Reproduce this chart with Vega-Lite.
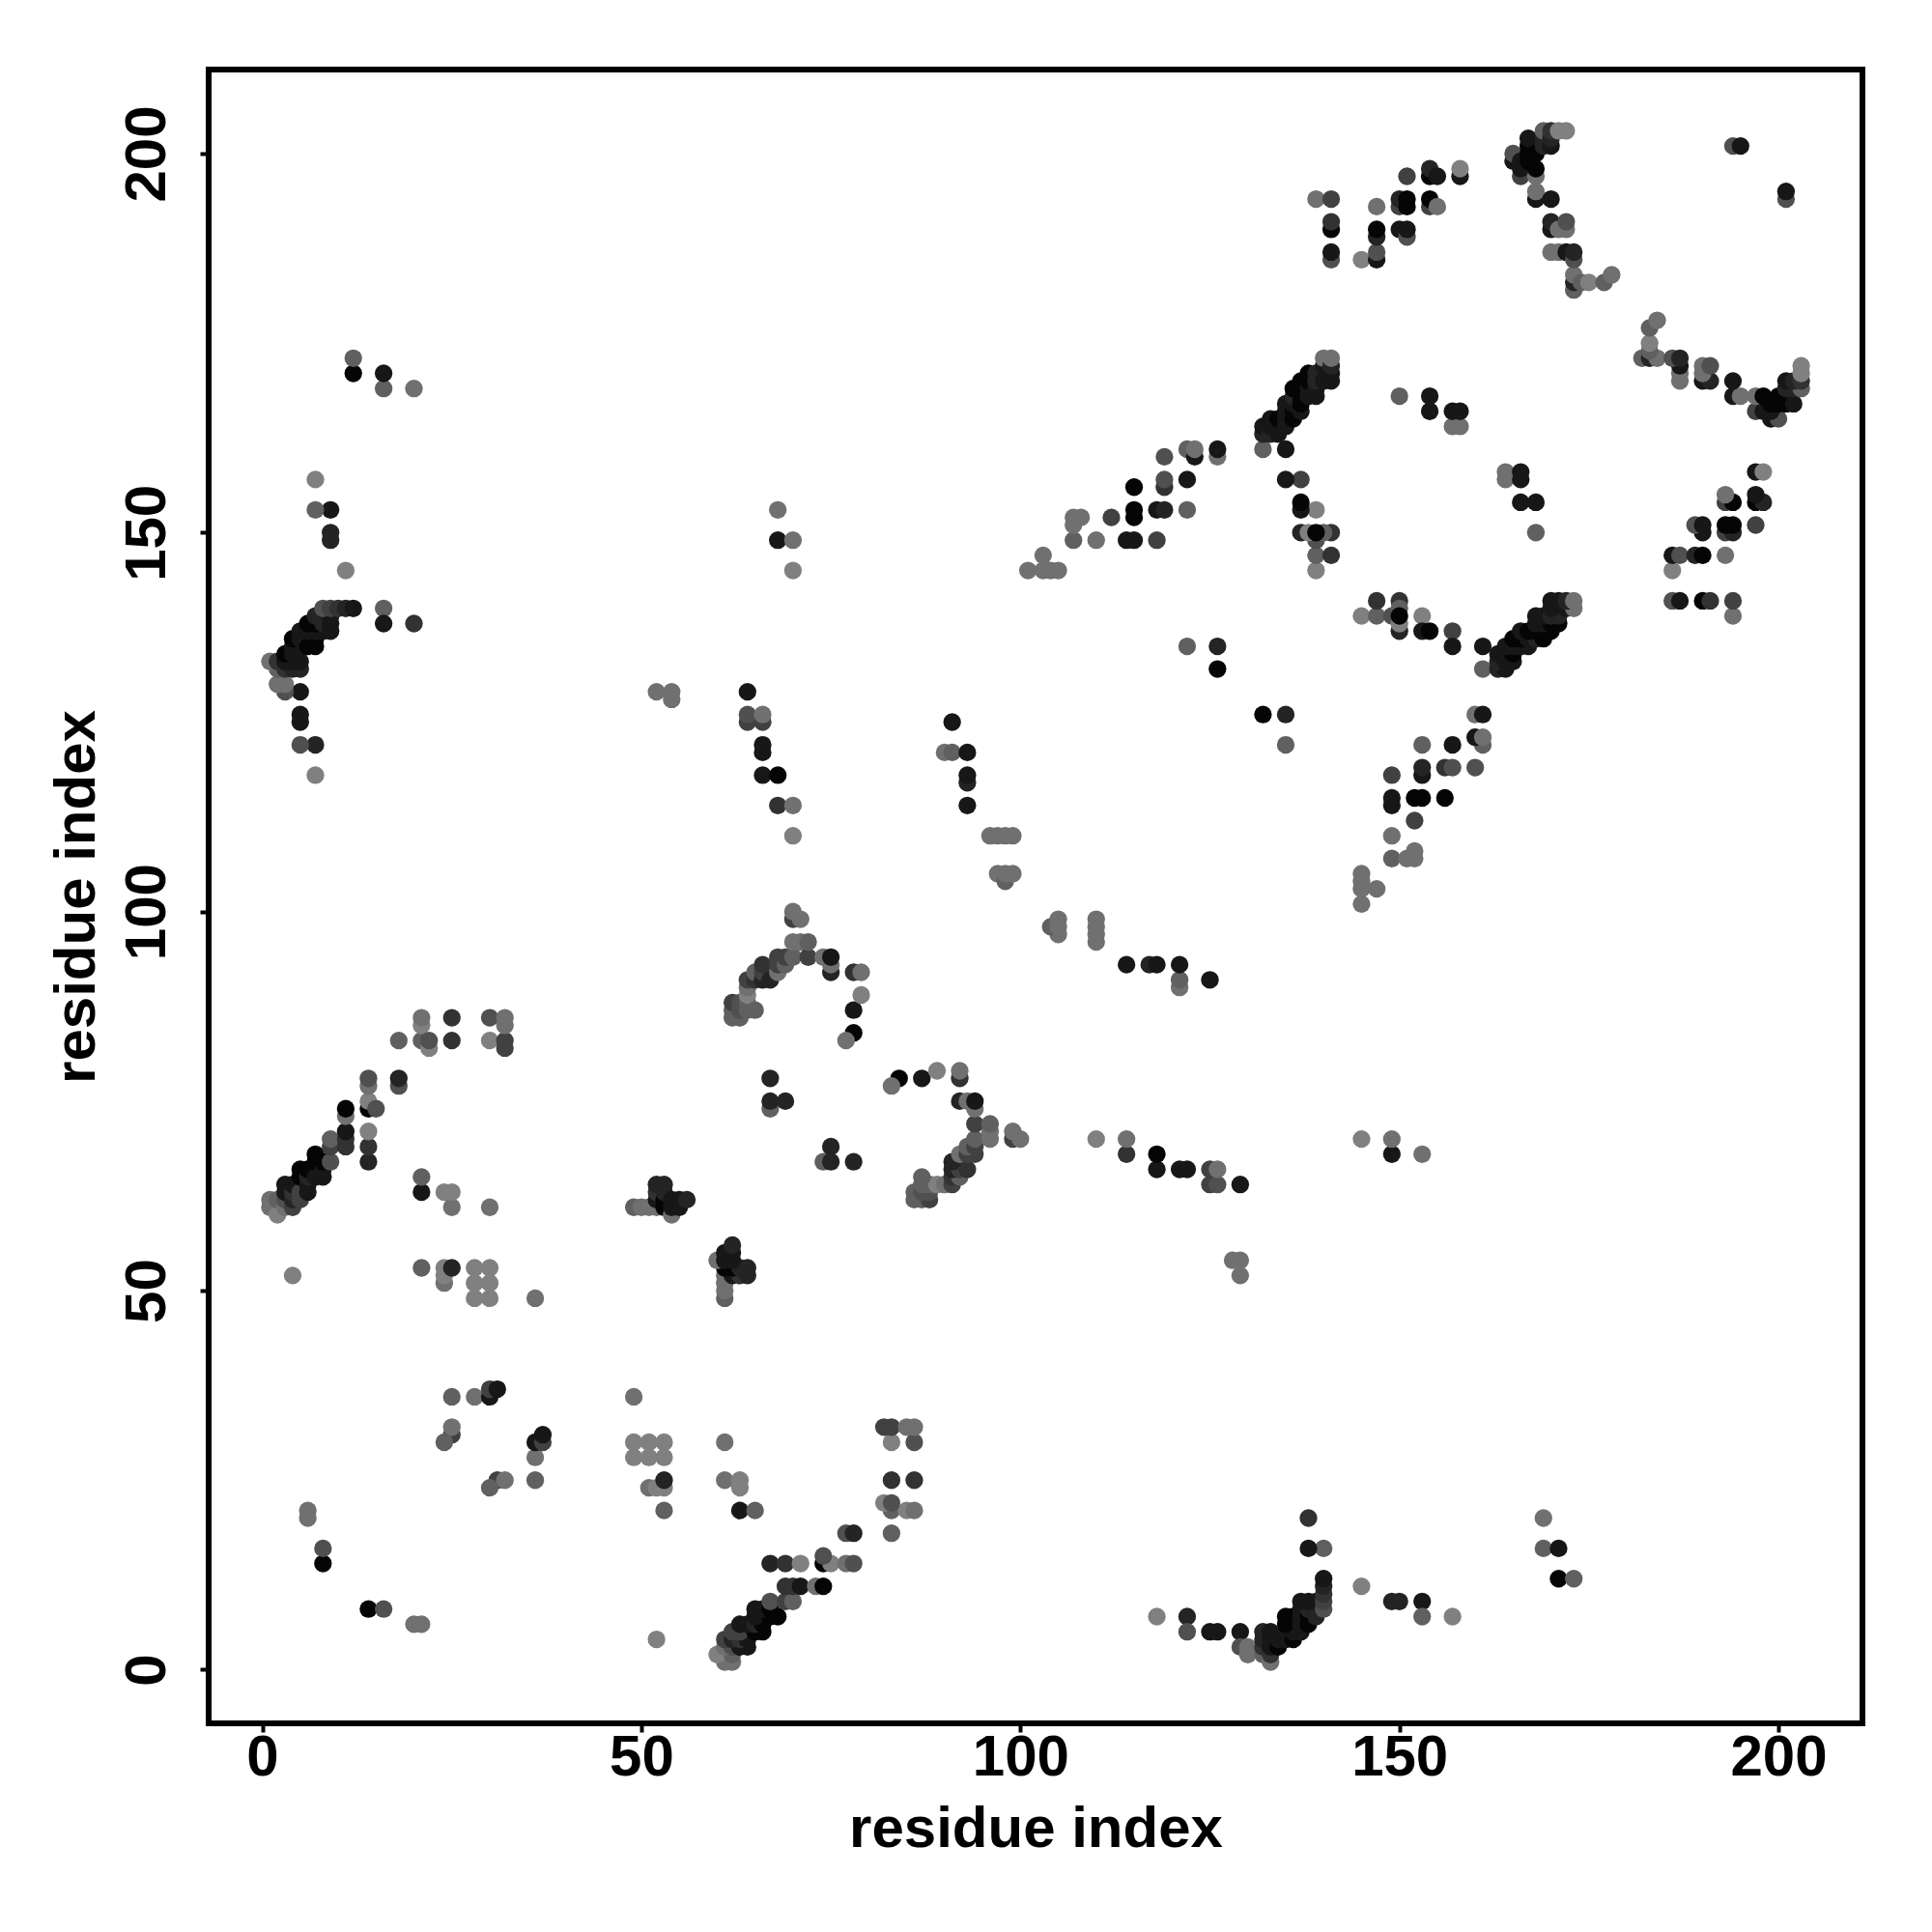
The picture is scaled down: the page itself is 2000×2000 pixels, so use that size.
{"$schema":"https://vega.github.io/schema/vega-lite/v6.json","width":1712,"height":1712,"autosize":{"type":"none"},"padding":{"left":216,"top":72,"right":72,"bottom":216},"background":"white","config":{"view":{"stroke":"black","strokeWidth":6,"fill":"white"}},"data":{"values":[
{"x":1,"y":61,"p":3},{"x":1,"y":62,"p":3},{"x":2,"y":60,"p":2},{"x":2,"y":62,"p":4},{"x":3,"y":61,"p":3},{"x":3,"y":62,"p":5},{"x":3,"y":63,"p":9},{"x":3,"y":64,"p":9},{"x":4,"y":61,"p":6},{"x":4,"y":62,"p":8},{"x":4,"y":63,"p":7},{"x":4,"y":64,"p":9},{"x":5,"y":62,"p":6},{"x":5,"y":63,"p":6},{"x":5,"y":65,"p":10},{"x":5,"y":66,"p":10},{"x":6,"y":63,"p":9},{"x":6,"y":64,"p":9},{"x":6,"y":65,"p":8},{"x":6,"y":66,"p":10},{"x":7,"y":65,"p":9},{"x":7,"y":67,"p":10},{"x":7,"y":68,"p":10},{"x":8,"y":65,"p":9},{"x":8,"y":66,"p":9},{"x":8,"y":67,"p":10},{"x":9,"y":67,"p":5},{"x":9,"y":69,"p":6},{"x":9,"y":70,"p":4},{"x":11,"y":69,"p":7},{"x":11,"y":70,"p":7},{"x":11,"y":71,"p":9},{"x":11,"y":73,"p":3},{"x":11,"y":74,"p":10},{"x":14,"y":67,"p":8},{"x":14,"y":69,"p":7},{"x":14,"y":71,"p":2},{"x":14,"y":74,"p":10},{"x":14,"y":75,"p":2},{"x":14,"y":77,"p":3},{"x":14,"y":78,"p":5},{"x":15,"y":74,"p":5},{"x":18,"y":77,"p":5},{"x":18,"y":78,"p":8},{"x":18,"y":83,"p":4},{"x":21,"y":83,"p":4},{"x":21,"y":85,"p":2},{"x":21,"y":86,"p":3},{"x":22,"y":82,"p":2},{"x":22,"y":83,"p":5},{"x":25,"y":83,"p":7},{"x":25,"y":86,"p":7},{"x":30,"y":83,"p":2},{"x":30,"y":86,"p":5},{"x":32,"y":82,"p":6},{"x":32,"y":83,"p":6},{"x":32,"y":85,"p":3},{"x":32,"y":86,"p":3},
{"x":21,"y":63,"p":9},{"x":21,"y":65,"p":4},{"x":24,"y":63,"p":2},{"x":25,"y":61,"p":3},{"x":25,"y":63,"p":2},{"x":30,"y":61,"p":3},{"x":4,"y":52,"p":2},{"x":21,"y":53,"p":4},{"x":24,"y":51,"p":3},{"x":24,"y":52,"p":2},{"x":24,"y":53,"p":2},{"x":25,"y":53,"p":8},{"x":28,"y":49,"p":2},{"x":28,"y":51,"p":2},{"x":28,"y":53,"p":2},{"x":30,"y":49,"p":2},{"x":30,"y":51,"p":2},{"x":30,"y":53,"p":2},{"x":36,"y":49,"p":3},{"x":25,"y":36,"p":4},{"x":28,"y":36,"p":3},{"x":30,"y":36,"p":9},{"x":30,"y":37,"p":6},{"x":31,"y":37,"p":9},{"x":25,"y":31,"p":6},{"x":25,"y":32,"p":3},{"x":24,"y":30,"p":4},{"x":6,"y":20,"p":3},{"x":6,"y":21,"p":3},{"x":8,"y":14,"p":10},{"x":8,"y":16,"p":5},
{"x":12,"y":171,"p":10},{"x":12,"y":173,"p":4},{"x":16,"y":169,"p":4},{"x":16,"y":171,"p":9},{"x":20,"y":169,"p":3},{"x":7,"y":118,"p":2},{"x":7,"y":122,"p":8},{"x":5,"y":122,"p":5},{"x":5,"y":125,"p":9},{"x":5,"y":126,"p":9},{"x":5,"y":129,"p":9},{"x":3,"y":129,"p":5},{"x":3,"y":130,"p":3},{"x":2,"y":130,"p":3},{"x":2,"y":132,"p":4},{"x":3,"y":132,"p":7},{"x":4,"y":132,"p":8},{"x":5,"y":132,"p":8},{"x":5,"y":133,"p":9},{"x":1,"y":133,"p":3},{"x":2,"y":133,"p":7},{"x":3,"y":133,"p":9},{"x":4,"y":133,"p":9},{"x":3,"y":134,"p":10},{"x":4,"y":134,"p":9},{"x":4,"y":135,"p":9},{"x":5,"y":135,"p":9},{"x":4,"y":136,"p":10},{"x":5,"y":136,"p":9},{"x":6,"y":136,"p":8},{"x":7,"y":136,"p":10},{"x":6,"y":135,"p":10},{"x":7,"y":135,"p":10},{"x":5,"y":137,"p":9},{"x":6,"y":137,"p":9},{"x":7,"y":137,"p":9},{"x":8,"y":137,"p":9},{"x":6,"y":138,"p":10},{"x":7,"y":138,"p":10},{"x":8,"y":138,"p":8},{"x":9,"y":138,"p":9},{"x":9,"y":137,"p":9},{"x":7,"y":139,"p":8},{"x":9,"y":139,"p":9},{"x":8,"y":140,"p":5},{"x":9,"y":140,"p":6},{"x":10,"y":140,"p":7},{"x":11,"y":140,"p":8},{"x":12,"y":140,"p":9},{"x":16,"y":140,"p":4},{"x":16,"y":138,"p":9},{"x":20,"y":138,"p":7},{"x":11,"y":145,"p":2},{"x":9,"y":149,"p":8},{"x":9,"y":150,"p":8},{"x":9,"y":153,"p":9},{"x":7,"y":153,"p":4},{"x":7,"y":157,"p":2},
{"x":49,"y":61,"p":4},{"x":50,"y":61,"p":3},{"x":51,"y":61,"p":3},{"x":52,"y":61,"p":3},{"x":52,"y":62,"p":9},{"x":52,"y":63,"p":7},{"x":52,"y":64,"p":8},{"x":53,"y":61,"p":10},{"x":53,"y":62,"p":10},{"x":53,"y":63,"p":8},{"x":53,"y":64,"p":8},{"x":54,"y":60,"p":3},{"x":54,"y":61,"p":9},{"x":54,"y":62,"p":9},{"x":55,"y":61,"p":9},{"x":55,"y":62,"p":9},{"x":56,"y":62,"p":8},{"x":52,"y":129,"p":3},{"x":54,"y":129,"p":3},{"x":54,"y":128,"p":3},{"x":64,"y":125,"p":6},{"x":64,"y":126,"p":5},{"x":64,"y":129,"p":9},{"x":66,"y":118,"p":9},{"x":66,"y":121,"p":9},{"x":66,"y":122,"p":9},{"x":66,"y":125,"p":6},{"x":66,"y":126,"p":3},{"x":68,"y":114,"p":7},{"x":68,"y":118,"p":10},{"x":70,"y":110,"p":2},{"x":70,"y":114,"p":3},{"x":68,"y":149,"p":9},{"x":68,"y":153,"p":3},{"x":70,"y":145,"p":2},{"x":70,"y":149,"p":3},
{"x":62,"y":86,"p":4},{"x":62,"y":87,"p":4},{"x":62,"y":88,"p":6},{"x":63,"y":86,"p":4},{"x":63,"y":87,"p":5},{"x":63,"y":88,"p":5},{"x":64,"y":87,"p":4},{"x":64,"y":88,"p":4},{"x":64,"y":89,"p":2},{"x":64,"y":90,"p":3},{"x":64,"y":91,"p":6},{"x":65,"y":87,"p":4},{"x":65,"y":91,"p":7},{"x":65,"y":92,"p":4},{"x":66,"y":91,"p":8},{"x":66,"y":92,"p":6},{"x":66,"y":93,"p":7},{"x":67,"y":91,"p":8},{"x":68,"y":92,"p":3},{"x":68,"y":93,"p":6},{"x":68,"y":94,"p":6},{"x":69,"y":93,"p":4},{"x":69,"y":94,"p":6},{"x":70,"y":94,"p":4},{"x":70,"y":96,"p":3},{"x":70,"y":99,"p":6},{"x":70,"y":100,"p":3},{"x":71,"y":96,"p":3},{"x":71,"y":99,"p":3},{"x":72,"y":94,"p":6},{"x":72,"y":96,"p":4},{"x":74,"y":94,"p":3},{"x":75,"y":92,"p":8},{"x":75,"y":93,"p":3},{"x":75,"y":94,"p":9},{"x":78,"y":84,"p":10},{"x":78,"y":87,"p":9},{"x":78,"y":92,"p":7},{"x":79,"y":89,"p":2},{"x":79,"y":92,"p":3},{"x":77,"y":83,"p":3},{"x":67,"y":74,"p":4},{"x":67,"y":75,"p":8},{"x":67,"y":78,"p":8},{"x":69,"y":75,"p":8},
{"x":90,"y":121,"p":3},{"x":91,"y":121,"p":4},{"x":91,"y":125,"p":9},{"x":93,"y":114,"p":9},{"x":93,"y":117,"p":8},{"x":93,"y":118,"p":9},{"x":93,"y":121,"p":9},{"x":96,"y":110,"p":3},{"x":97,"y":110,"p":3},{"x":98,"y":110,"p":3},{"x":99,"y":110,"p":3},{"x":97,"y":105,"p":3},{"x":98,"y":104,"p":4},{"x":98,"y":105,"p":3},{"x":99,"y":105,"p":3},
{"x":101,"y":145,"p":3},{"x":103,"y":145,"p":3},{"x":104,"y":145,"p":3},{"x":105,"y":145,"p":3},{"x":103,"y":147,"p":3},{"x":107,"y":149,"p":4},{"x":107,"y":151,"p":3},{"x":107,"y":152,"p":3},{"x":108,"y":152,"p":3},{"x":110,"y":149,"p":3},{"x":112,"y":152,"p":6},{"x":114,"y":149,"p":9},{"x":115,"y":149,"p":9},{"x":115,"y":152,"p":10},{"x":115,"y":153,"p":10},{"x":115,"y":156,"p":10},{"x":118,"y":149,"p":6},{"x":118,"y":153,"p":9},{"x":119,"y":153,"p":8},{"x":119,"y":156,"p":7},{"x":119,"y":157,"p":5},{"x":119,"y":160,"p":5},{"x":122,"y":153,"p":4},{"x":122,"y":157,"p":9},{"x":122,"y":161,"p":4},{"x":123,"y":160,"p":9},{"x":123,"y":161,"p":3},{"x":126,"y":160,"p":3},{"x":126,"y":161,"p":9},{"x":122,"y":135,"p":4},{"x":126,"y":135,"p":8},{"x":126,"y":132,"p":10},
{"x":132,"y":161,"p":4},{"x":132,"y":163,"p":8},{"x":132,"y":164,"p":9},{"x":133,"y":163,"p":8},{"x":133,"y":164,"p":9},{"x":133,"y":165,"p":9},{"x":134,"y":163,"p":9},{"x":134,"y":164,"p":9},{"x":134,"y":165,"p":10},{"x":135,"y":164,"p":9},{"x":135,"y":165,"p":9},{"x":135,"y":166,"p":9},{"x":135,"y":167,"p":9},{"x":136,"y":165,"p":10},{"x":136,"y":166,"p":10},{"x":136,"y":167,"p":9},{"x":136,"y":168,"p":8},{"x":136,"y":169,"p":10},{"x":137,"y":166,"p":9},{"x":137,"y":167,"p":10},{"x":137,"y":168,"p":10},{"x":137,"y":169,"p":10},{"x":137,"y":170,"p":10},{"x":138,"y":168,"p":9},{"x":138,"y":169,"p":9},{"x":138,"y":170,"p":10},{"x":138,"y":171,"p":10},{"x":139,"y":168,"p":9},{"x":139,"y":169,"p":9},{"x":139,"y":170,"p":8},{"x":139,"y":171,"p":8},{"x":140,"y":170,"p":9},{"x":140,"y":172,"p":9},{"x":140,"y":173,"p":3},{"x":141,"y":170,"p":9},{"x":141,"y":171,"p":9},{"x":141,"y":172,"p":8},{"x":141,"y":173,"p":3},{"x":139,"y":145,"p":2},{"x":139,"y":147,"p":4},{"x":139,"y":149,"p":5},{"x":141,"y":147,"p":7},{"x":141,"y":150,"p":7},{"x":137,"y":150,"p":8},{"x":138,"y":150,"p":2},{"x":140,"y":150,"p":4},{"x":139,"y":150,"p":10},{"x":139,"y":153,"p":2},{"x":137,"y":153,"p":9},{"x":137,"y":154,"p":10},{"x":137,"y":157,"p":6},{"x":135,"y":157,"p":9},{"x":135,"y":161,"p":9},
{"x":150,"y":168,"p":4},{"x":154,"y":166,"p":9},{"x":154,"y":168,"p":9},{"x":157,"y":164,"p":3},{"x":157,"y":166,"p":9},{"x":158,"y":164,"p":3},{"x":158,"y":166,"p":9},{"x":139,"y":194,"p":3},{"x":141,"y":186,"p":5},{"x":141,"y":187,"p":9},{"x":141,"y":190,"p":10},{"x":141,"y":191,"p":7},{"x":141,"y":194,"p":6},{"x":145,"y":186,"p":2},{"x":147,"y":186,"p":9},{"x":147,"y":187,"p":5},{"x":147,"y":189,"p":8},{"x":147,"y":190,"p":10},{"x":147,"y":193,"p":3},{"x":150,"y":190,"p":9},{"x":150,"y":193,"p":6},{"x":150,"y":194,"p":8},{"x":151,"y":189,"p":5},{"x":151,"y":190,"p":9},{"x":151,"y":193,"p":10},{"x":151,"y":194,"p":10},{"x":151,"y":197,"p":6},{"x":154,"y":193,"p":6},{"x":154,"y":194,"p":10},{"x":154,"y":197,"p":10},{"x":154,"y":198,"p":8},{"x":155,"y":193,"p":3},{"x":155,"y":197,"p":9},{"x":158,"y":197,"p":9},{"x":158,"y":198,"p":2},
{"x":165,"y":199,"p":9},{"x":165,"y":200,"p":5},{"x":166,"y":197,"p":6},{"x":166,"y":198,"p":9},{"x":166,"y":199,"p":9},{"x":167,"y":199,"p":10},{"x":167,"y":200,"p":10},{"x":167,"y":201,"p":10},{"x":167,"y":202,"p":9},{"x":168,"y":194,"p":9},{"x":168,"y":195,"p":3},{"x":168,"y":197,"p":3},{"x":168,"y":198,"p":10},{"x":168,"y":200,"p":10},{"x":169,"y":201,"p":8},{"x":169,"y":202,"p":8},{"x":169,"y":203,"p":4},{"x":170,"y":187,"p":3},{"x":170,"y":190,"p":9},{"x":170,"y":191,"p":8},{"x":170,"y":194,"p":9},{"x":170,"y":201,"p":9},{"x":170,"y":202,"p":8},{"x":170,"y":203,"p":7},{"x":171,"y":187,"p":3},{"x":171,"y":190,"p":3},{"x":171,"y":203,"p":2},{"x":172,"y":187,"p":9},{"x":172,"y":190,"p":3},{"x":172,"y":191,"p":5},{"x":172,"y":203,"p":2},{"x":173,"y":182,"p":4},{"x":173,"y":183,"p":8},{"x":173,"y":184,"p":3},{"x":173,"y":186,"p":5},{"x":173,"y":187,"p":8},{"x":174,"y":183,"p":4},{"x":175,"y":183,"p":2},{"x":177,"y":183,"p":4},{"x":178,"y":184,"p":3},{"x":194,"y":201,"p":5},{"x":195,"y":201,"p":9},
{"y":1,"x":61,"p":3},{"y":1,"x":62,"p":3},{"y":2,"x":60,"p":2},{"y":2,"x":62,"p":4},{"y":3,"x":61,"p":3},{"y":3,"x":62,"p":5},{"y":3,"x":63,"p":9},{"y":3,"x":64,"p":9},{"y":4,"x":61,"p":6},{"y":4,"x":62,"p":8},{"y":4,"x":63,"p":7},{"y":4,"x":64,"p":9},{"y":5,"x":62,"p":6},{"y":5,"x":63,"p":6},{"y":5,"x":65,"p":10},{"y":5,"x":66,"p":10},{"y":6,"x":63,"p":9},{"y":6,"x":64,"p":9},{"y":6,"x":65,"p":8},{"y":6,"x":66,"p":10},{"y":7,"x":65,"p":9},{"y":7,"x":67,"p":10},{"y":7,"x":68,"p":10},{"y":8,"x":65,"p":9},{"y":8,"x":66,"p":9},{"y":8,"x":67,"p":10},{"y":9,"x":67,"p":5},{"y":9,"x":69,"p":6},{"y":9,"x":70,"p":4},{"y":11,"x":69,"p":7},{"y":11,"x":70,"p":7},{"y":11,"x":71,"p":9},{"y":11,"x":73,"p":3},{"y":11,"x":74,"p":10},{"y":14,"x":67,"p":8},{"y":14,"x":69,"p":7},{"y":14,"x":71,"p":2},{"y":14,"x":74,"p":10},{"y":14,"x":75,"p":2},{"y":14,"x":77,"p":3},{"y":14,"x":78,"p":5},{"y":15,"x":74,"p":5},{"y":18,"x":77,"p":5},{"y":18,"x":78,"p":8},{"y":18,"x":83,"p":4},{"y":21,"x":83,"p":4},{"y":21,"x":85,"p":2},{"y":21,"x":86,"p":3},{"y":22,"x":82,"p":2},{"y":22,"x":83,"p":5},{"y":25,"x":83,"p":7},{"y":25,"x":86,"p":7},{"y":30,"x":83,"p":2},{"y":30,"x":86,"p":5},{"y":32,"x":82,"p":6},{"y":32,"x":83,"p":6},{"y":32,"x":85,"p":3},{"y":32,"x":86,"p":3},
{"y":21,"x":63,"p":9},{"y":21,"x":65,"p":4},{"y":24,"x":63,"p":2},{"y":25,"x":61,"p":3},{"y":25,"x":63,"p":2},{"y":30,"x":61,"p":3},{"y":4,"x":52,"p":2},{"y":21,"x":53,"p":4},{"y":24,"x":51,"p":3},{"y":24,"x":52,"p":2},{"y":24,"x":53,"p":2},{"y":25,"x":53,"p":8},{"y":28,"x":49,"p":2},{"y":28,"x":51,"p":2},{"y":28,"x":53,"p":2},{"y":30,"x":49,"p":2},{"y":30,"x":51,"p":2},{"y":30,"x":53,"p":2},{"y":36,"x":49,"p":3},{"y":25,"x":36,"p":4},{"y":28,"x":36,"p":3},{"y":30,"x":36,"p":9},{"y":30,"x":37,"p":6},{"y":31,"x":37,"p":9},{"y":25,"x":31,"p":6},{"y":25,"x":32,"p":3},{"y":24,"x":30,"p":4},{"y":6,"x":20,"p":3},{"y":6,"x":21,"p":3},{"y":8,"x":14,"p":10},{"y":8,"x":16,"p":5},
{"y":12,"x":171,"p":10},{"y":12,"x":173,"p":4},{"y":16,"x":169,"p":4},{"y":16,"x":171,"p":9},{"y":20,"x":169,"p":3},{"y":7,"x":118,"p":2},{"y":7,"x":122,"p":8},{"y":5,"x":122,"p":5},{"y":5,"x":125,"p":9},{"y":5,"x":126,"p":9},{"y":5,"x":129,"p":9},{"y":3,"x":129,"p":5},{"y":3,"x":130,"p":3},{"y":2,"x":130,"p":3},{"y":2,"x":132,"p":4},{"y":3,"x":132,"p":7},{"y":4,"x":132,"p":8},{"y":5,"x":132,"p":8},{"y":5,"x":133,"p":9},{"y":1,"x":133,"p":3},{"y":2,"x":133,"p":7},{"y":3,"x":133,"p":9},{"y":4,"x":133,"p":9},{"y":3,"x":134,"p":10},{"y":4,"x":134,"p":9},{"y":4,"x":135,"p":9},{"y":5,"x":135,"p":9},{"y":4,"x":136,"p":10},{"y":5,"x":136,"p":9},{"y":6,"x":136,"p":8},{"y":7,"x":136,"p":10},{"y":6,"x":135,"p":10},{"y":7,"x":135,"p":10},{"y":5,"x":137,"p":9},{"y":6,"x":137,"p":9},{"y":7,"x":137,"p":9},{"y":8,"x":137,"p":9},{"y":6,"x":138,"p":10},{"y":7,"x":138,"p":10},{"y":8,"x":138,"p":8},{"y":9,"x":138,"p":9},{"y":9,"x":137,"p":9},{"y":7,"x":139,"p":8},{"y":9,"x":139,"p":9},{"y":8,"x":140,"p":5},{"y":9,"x":140,"p":6},{"y":10,"x":140,"p":7},{"y":11,"x":140,"p":8},{"y":12,"x":140,"p":9},{"y":16,"x":140,"p":4},{"y":16,"x":138,"p":9},{"y":20,"x":138,"p":7},{"y":11,"x":145,"p":2},{"y":9,"x":149,"p":8},{"y":9,"x":150,"p":8},{"y":9,"x":153,"p":9},{"y":7,"x":153,"p":4},{"y":7,"x":157,"p":2},
{"y":49,"x":61,"p":4},{"y":50,"x":61,"p":3},{"y":51,"x":61,"p":3},{"y":52,"x":61,"p":3},{"y":52,"x":62,"p":9},{"y":52,"x":63,"p":7},{"y":52,"x":64,"p":8},{"y":53,"x":61,"p":10},{"y":53,"x":62,"p":10},{"y":53,"x":63,"p":8},{"y":53,"x":64,"p":8},{"y":54,"x":60,"p":3},{"y":54,"x":61,"p":9},{"y":54,"x":62,"p":9},{"y":55,"x":61,"p":9},{"y":55,"x":62,"p":9},{"y":56,"x":62,"p":8},{"y":52,"x":129,"p":3},{"y":54,"x":129,"p":3},{"y":54,"x":128,"p":3},{"y":64,"x":125,"p":6},{"y":64,"x":126,"p":5},{"y":64,"x":129,"p":9},{"y":66,"x":118,"p":9},{"y":66,"x":121,"p":9},{"y":66,"x":122,"p":9},{"y":66,"x":125,"p":6},{"y":66,"x":126,"p":3},{"y":68,"x":114,"p":7},{"y":68,"x":118,"p":10},{"y":70,"x":110,"p":2},{"y":70,"x":114,"p":3},{"y":68,"x":149,"p":9},{"y":68,"x":153,"p":3},{"y":70,"x":145,"p":2},{"y":70,"x":149,"p":3},
{"y":62,"x":86,"p":4},{"y":62,"x":87,"p":4},{"y":62,"x":88,"p":6},{"y":63,"x":86,"p":4},{"y":63,"x":87,"p":5},{"y":63,"x":88,"p":5},{"y":64,"x":87,"p":4},{"y":64,"x":88,"p":4},{"y":64,"x":89,"p":2},{"y":64,"x":90,"p":3},{"y":64,"x":91,"p":6},{"y":65,"x":87,"p":4},{"y":65,"x":91,"p":7},{"y":65,"x":92,"p":4},{"y":66,"x":91,"p":8},{"y":66,"x":92,"p":6},{"y":66,"x":93,"p":7},{"y":67,"x":91,"p":8},{"y":68,"x":92,"p":3},{"y":68,"x":93,"p":6},{"y":68,"x":94,"p":6},{"y":69,"x":93,"p":4},{"y":69,"x":94,"p":6},{"y":70,"x":94,"p":4},{"y":70,"x":96,"p":3},{"y":70,"x":99,"p":6},{"y":70,"x":100,"p":3},{"y":71,"x":96,"p":3},{"y":71,"x":99,"p":3},{"y":72,"x":94,"p":6},{"y":72,"x":96,"p":4},{"y":74,"x":94,"p":3},{"y":75,"x":92,"p":8},{"y":75,"x":93,"p":3},{"y":75,"x":94,"p":9},{"y":78,"x":84,"p":10},{"y":78,"x":87,"p":9},{"y":78,"x":92,"p":7},{"y":79,"x":89,"p":2},{"y":79,"x":92,"p":3},{"y":77,"x":83,"p":3},{"y":67,"x":74,"p":4},{"y":67,"x":75,"p":8},{"y":67,"x":78,"p":8},{"y":69,"x":75,"p":8},
{"y":90,"x":121,"p":3},{"y":91,"x":121,"p":4},{"y":91,"x":125,"p":9},{"y":93,"x":114,"p":9},{"y":93,"x":117,"p":8},{"y":93,"x":118,"p":9},{"y":93,"x":121,"p":9},{"y":96,"x":110,"p":3},{"y":97,"x":110,"p":3},{"y":98,"x":110,"p":3},{"y":99,"x":110,"p":3},{"y":97,"x":105,"p":3},{"y":98,"x":104,"p":4},{"y":98,"x":105,"p":3},{"y":99,"x":105,"p":3},
{"y":101,"x":145,"p":3},{"y":103,"x":145,"p":3},{"y":104,"x":145,"p":3},{"y":105,"x":145,"p":3},{"y":103,"x":147,"p":3},{"y":107,"x":149,"p":4},{"y":107,"x":151,"p":3},{"y":107,"x":152,"p":3},{"y":108,"x":152,"p":3},{"y":110,"x":149,"p":3},{"y":112,"x":152,"p":6},{"y":114,"x":149,"p":9},{"y":115,"x":149,"p":9},{"y":115,"x":152,"p":10},{"y":115,"x":153,"p":10},{"y":115,"x":156,"p":10},{"y":118,"x":149,"p":6},{"y":118,"x":153,"p":9},{"y":119,"x":153,"p":8},{"y":119,"x":156,"p":7},{"y":119,"x":157,"p":5},{"y":119,"x":160,"p":5},{"y":122,"x":153,"p":4},{"y":122,"x":157,"p":9},{"y":122,"x":161,"p":4},{"y":123,"x":160,"p":9},{"y":123,"x":161,"p":3},{"y":126,"x":160,"p":3},{"y":126,"x":161,"p":9},{"y":122,"x":135,"p":4},{"y":126,"x":135,"p":8},{"y":126,"x":132,"p":10},
{"y":132,"x":161,"p":4},{"y":132,"x":163,"p":8},{"y":132,"x":164,"p":9},{"y":133,"x":163,"p":8},{"y":133,"x":164,"p":9},{"y":133,"x":165,"p":9},{"y":134,"x":163,"p":9},{"y":134,"x":164,"p":9},{"y":134,"x":165,"p":10},{"y":135,"x":164,"p":9},{"y":135,"x":165,"p":9},{"y":135,"x":166,"p":9},{"y":135,"x":167,"p":9},{"y":136,"x":165,"p":10},{"y":136,"x":166,"p":10},{"y":136,"x":167,"p":9},{"y":136,"x":168,"p":8},{"y":136,"x":169,"p":10},{"y":137,"x":166,"p":9},{"y":137,"x":167,"p":10},{"y":137,"x":168,"p":10},{"y":137,"x":169,"p":10},{"y":137,"x":170,"p":10},{"y":138,"x":168,"p":9},{"y":138,"x":169,"p":9},{"y":138,"x":170,"p":10},{"y":138,"x":171,"p":10},{"y":139,"x":168,"p":9},{"y":139,"x":169,"p":9},{"y":139,"x":170,"p":8},{"y":139,"x":171,"p":8},{"y":140,"x":170,"p":9},{"y":140,"x":172,"p":9},{"y":140,"x":173,"p":3},{"y":141,"x":170,"p":9},{"y":141,"x":171,"p":9},{"y":141,"x":172,"p":8},{"y":141,"x":173,"p":3},{"y":139,"x":145,"p":2},{"y":139,"x":147,"p":4},{"y":139,"x":149,"p":5},{"y":141,"x":147,"p":7},{"y":141,"x":150,"p":7},{"y":137,"x":150,"p":8},{"y":138,"x":150,"p":2},{"y":140,"x":150,"p":4},{"y":139,"x":150,"p":10},{"y":139,"x":153,"p":2},{"y":137,"x":153,"p":9},{"y":137,"x":154,"p":10},{"y":137,"x":157,"p":6},{"y":135,"x":157,"p":9},{"y":135,"x":161,"p":9},
{"y":150,"x":168,"p":4},{"y":154,"x":166,"p":9},{"y":154,"x":168,"p":9},{"y":157,"x":164,"p":3},{"y":157,"x":166,"p":9},{"y":158,"x":164,"p":3},{"y":158,"x":166,"p":9},{"y":139,"x":194,"p":3},{"y":141,"x":186,"p":5},{"y":141,"x":187,"p":9},{"y":141,"x":190,"p":10},{"y":141,"x":191,"p":7},{"y":141,"x":194,"p":6},{"y":145,"x":186,"p":2},{"y":147,"x":186,"p":9},{"y":147,"x":187,"p":5},{"y":147,"x":189,"p":8},{"y":147,"x":190,"p":10},{"y":147,"x":193,"p":3},{"y":150,"x":190,"p":9},{"y":150,"x":193,"p":6},{"y":150,"x":194,"p":8},{"y":151,"x":189,"p":5},{"y":151,"x":190,"p":9},{"y":151,"x":193,"p":10},{"y":151,"x":194,"p":10},{"y":151,"x":197,"p":6},{"y":154,"x":193,"p":6},{"y":154,"x":194,"p":10},{"y":154,"x":197,"p":10},{"y":154,"x":198,"p":8},{"y":155,"x":193,"p":3},{"y":155,"x":197,"p":9},{"y":158,"x":197,"p":9},{"y":158,"x":198,"p":2},
{"y":165,"x":199,"p":9},{"y":165,"x":200,"p":5},{"y":166,"x":197,"p":6},{"y":166,"x":198,"p":9},{"y":166,"x":199,"p":9},{"y":167,"x":199,"p":10},{"y":167,"x":200,"p":10},{"y":167,"x":201,"p":10},{"y":167,"x":202,"p":9},{"y":168,"x":194,"p":9},{"y":168,"x":195,"p":3},{"y":168,"x":197,"p":3},{"y":168,"x":198,"p":10},{"y":168,"x":200,"p":10},{"y":169,"x":201,"p":8},{"y":169,"x":202,"p":8},{"y":169,"x":203,"p":4},{"y":170,"x":187,"p":3},{"y":170,"x":190,"p":9},{"y":170,"x":191,"p":8},{"y":170,"x":194,"p":9},{"y":170,"x":201,"p":9},{"y":170,"x":202,"p":8},{"y":170,"x":203,"p":7},{"y":171,"x":187,"p":3},{"y":171,"x":190,"p":3},{"y":171,"x":203,"p":2},{"y":172,"x":187,"p":9},{"y":172,"x":190,"p":3},{"y":172,"x":191,"p":5},{"y":172,"x":203,"p":2},{"y":173,"x":182,"p":4},{"y":173,"x":183,"p":8},{"y":173,"x":184,"p":3},{"y":173,"x":186,"p":5},{"y":173,"x":187,"p":8},{"y":174,"x":183,"p":4},{"y":175,"x":183,"p":2},{"y":177,"x":183,"p":4},{"y":178,"x":184,"p":3},{"y":194,"x":201,"p":5},{"y":195,"x":201,"p":9}
]},"mark":{"type":"circle","size":335,"opacity":1,"stroke":null},"encoding":{"x":{"field":"x","type":"quantitative","scale":{"domain":[-7.08,211.08],"nice":false,"zero":false},"axis":{"title":"residue index","titleFont":"Liberation Sans","titleFontWeight":"bold","titleFontSize":60,"titleColor":"black","titleX":856,"titleY":127,"titleBaseline":"alphabetic","titleAlign":"center","titleAnchor":"middle","values":[0,50,100,150,200],"grid":false,"domain":false,"ticks":true,"tickSize":9,"tickWidth":4,"tickColor":"black","labelFont":"Liberation Sans","labelFontWeight":"bold","labelFontSize":60,"labelColor":"black","labelPadding":-3,"labelFlush":false,"labelOverlap":false,"labelBound":false}},"y":{"field":"y","type":"quantitative","scale":{"domain":[-7.08,211.08],"nice":false,"zero":false},"axis":{"title":"residue index","titleFont":"Liberation Sans","titleFontWeight":"bold","titleFontSize":60,"titleColor":"black","titleX":-119,"titleY":856,"titleAngle":-90,"titleBaseline":"alphabetic","titleAlign":"center","titleAnchor":"middle","values":[0,50,100,150,200],"grid":false,"domain":false,"ticks":true,"tickSize":9,"tickWidth":4,"tickColor":"black","labelFont":"Liberation Sans","labelFontWeight":"bold","labelFontSize":60,"labelColor":"black","labelAngle":-90,"labelAlign":"center","labelBaseline":"alphabetic","labelPadding":37,"labelFlush":false,"labelOverlap":false,"labelBound":false}},"color":{"field":"p","type":"quantitative","legend":null,"scale":{"domain":[2,10],"range":["#808080","#050505"],"clamp":true}}}}
